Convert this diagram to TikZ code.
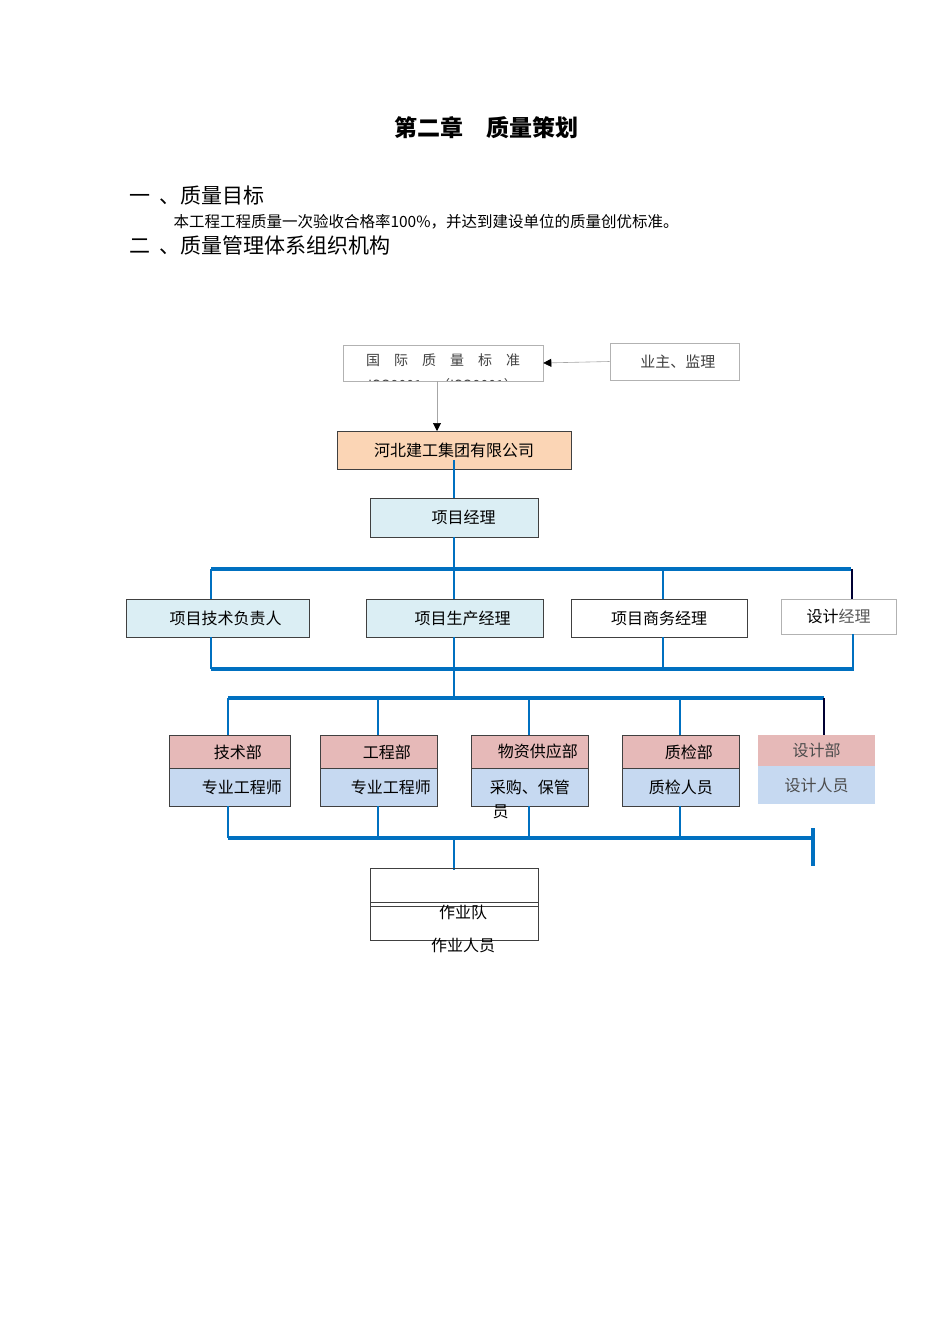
\documentclass[tikz,border=0pt]{standalone}
\usepackage{fontspec}
\setmainfont{Noto Sans CJK SC}
\newfontfamily\cjk{Noto Sans CJK SC}
\usetikzlibrary{arrows.meta}
\definecolor{bblue}{HTML}{0070C0}
\definecolor{peach}{HTML}{FBD5B5}
\definecolor{lblue}{HTML}{DBEEF4}
\definecolor{pinkc}{HTML}{E6B9B8}
\definecolor{dblue}{HTML}{C6D9F1}
\tikzset{
 box/.style={draw=black!75,line width=0.8pt,inner sep=0pt},
 bus/.style={draw=bblue,line width=3.5pt},
 tie/.style={draw=bblue,line width=1.5pt},
 lbl/.style={font=\fontsize{16}{16}\selectfont},
 gline/.style={draw=black!35,line width=0.6pt},
 blktip/.style={-{Triangle[length=8pt,width=8pt,fill=black,color=black]}}
}
\begin{document}
\begin{tikzpicture}[x=1pt,y=-1pt]
\useasboundingbox (0,0) rectangle (950,1344);
\fill[white] (0,0) rectangle (950,1344);
% header
\node[font=\fontsize{23}{23}\selectfont\bfseries] (title) at (486,128) {第二章\quad 质量策划};
\node[anchor=west,font=\fontsize{21}{21}\selectfont] (h1) at (126,196) {一\ \ 、质量目标};
\node[anchor=west,font=\fontsize{15.5}{16}\selectfont] (p1) at (170,222) {本工程工程质量一次验收合格率100\%，并达到建设单位的质量创优标准。};
\node[anchor=west,font=\fontsize{21}{21}\selectfont] (h2) at (126,245) {二\ \ 、质量管理体系组织机构};
% top
\begin{scope}
\clip (343,345) rectangle (543,381);
\node[font=\fontsize{14}{14}\selectfont,text=black!75] (isot) at (443,360) {国\hspace{1em}际\hspace{1em}质\hspace{1em}量\hspace{1em}标\hspace{1em}准};
\node[font=\fontsize{14}{14}\selectfont,text=black!75] (isob) at (443,385) {ISO9001\hspace{1em}（ISO9001）};
\end{scope}
\node[draw=black!30,line width=0.6pt,minimum width=200pt,minimum height=36pt] (iso) at (443,363) {};
\node[draw=black!30,line width=0.6pt,minimum width=129pt,minimum height=37pt,font=\fontsize{15}{15}\selectfont,text=black!75] (own) at (674.5,361.5) {\ \ 业主、监理};
\draw[gline,blktip] (own.west) -- (iso.east);
\node[box,fill=peach,minimum width=234pt,minimum height=38pt,lbl] (corp) at (454,450) {河北建工集团有限公司\hspace{2em}};
\draw[gline,blktip] (437,381) -- (437,431);
\node[box,fill=lblue,minimum width=168pt,minimum height=39pt,lbl] (pm) at (454,517.5) {\hspace{1.2em}项目经理};
\draw[tie] (454,460) -- (pm.north);
% bus 1
\draw[tie] (pm.south) -- (454,569);
\draw[bus] (211,569) -- (851,569);
\draw[draw=black!80!blue,line width=2pt] (852,569) -- (852,599);
\node[box,fill=lblue,minimum width=183pt,minimum height=38pt,lbl] (tech) at (217.5,618) {\hspace{1em}项目技术负责人};
\node[box,fill=lblue,minimum width=177pt,minimum height=38pt,lbl] (prod) at (454.5,618) {\hspace{1em}项目生产经理};
\node[box,fill=white,minimum width=176pt,minimum height=38pt,lbl] (biz) at (659,618) {项目商务经理};
\node[draw=black!30,line width=0.6pt,minimum width=115pt,minimum height=35pt,lbl] (des) at (838.5,616.5) {设计\textcolor{black!65}{经理}};
\draw[tie] (211,569) -- (211,599);
\draw[tie] (454,569) -- (454,599);
\draw[tie] (663,569) -- (663,599);
% bus 2
\draw[tie] (211,637) -- (211,669);
\draw[tie] (454,637) -- (454,669);
\draw[tie] (663,637) -- (663,669);
\draw[tie] (853,634) -- (853,669);
\draw[bus] (211,669) -- (854,669);
\draw[tie] (454,669) -- (454,700);
% bus 3
\draw[bus] (228,698) -- (824,698);
\draw[draw=black!80!blue,line width=2pt] (824,698) -- (824,735);
\foreach \x in {228,378,529,680} \draw[tie] (\x,698) -- (\x,735);
% dept boxes
\foreach \n/\xa/\xb/\ta/\tb in {d1/169/290/\hspace{1em}技术部/\hspace{1.5em}专业工程师, d2/320/437/\hspace{1em}工程部/\hspace{1.5em}专业工程师, d3/471/588/\hspace{1em}物资供应部/采购、保管, d4/622/739/\hspace{1em}质检部/质检人员}{
  \node[box,fill=pinkc,minimum width=\xb pt-\xa pt,minimum height=33pt,anchor=north west,lbl] (\n a) at (\xa,735) {\ta};
  \node[box,fill=dblue,minimum width=\xb pt-\xa pt,minimum height=38pt,anchor=north west,lbl] (\n b) at (\xa,768) {\tb};
}
\node[lbl,anchor=north west] (d3c) at (489,801) {员};
\node[fill=pinkc,minimum width=117pt,minimum height=31pt,anchor=north west,lbl,text=black!70] (d5a) at (758,735) {设计部};
\node[fill=dblue,minimum width=117pt,minimum height=38pt,anchor=north west,lbl,text=black!70] (d5b) at (758,766) {设计人员};
% bus 4
\foreach \x in {228,378,529,680} \draw[tie] (\x,806) -- (\x,838);
\draw[bus] (228,838) -- (813,838);
\draw[draw=bblue,line width=3.5pt] (813,828) -- (813,866);
\draw[tie] (454,838) -- (454,870);
% team
\node[box,minimum width=168pt,minimum height=72pt,anchor=north west] (team) at (370,868) {};
\draw[black!75,line width=0.8pt] (370,902) -- (538,902) (370,906) -- (538,906);
\node[lbl] (t1) at (463,912) {作业队};
\node[lbl] (t2) at (463,945) {作业人员};
\end{tikzpicture}
\end{document}
